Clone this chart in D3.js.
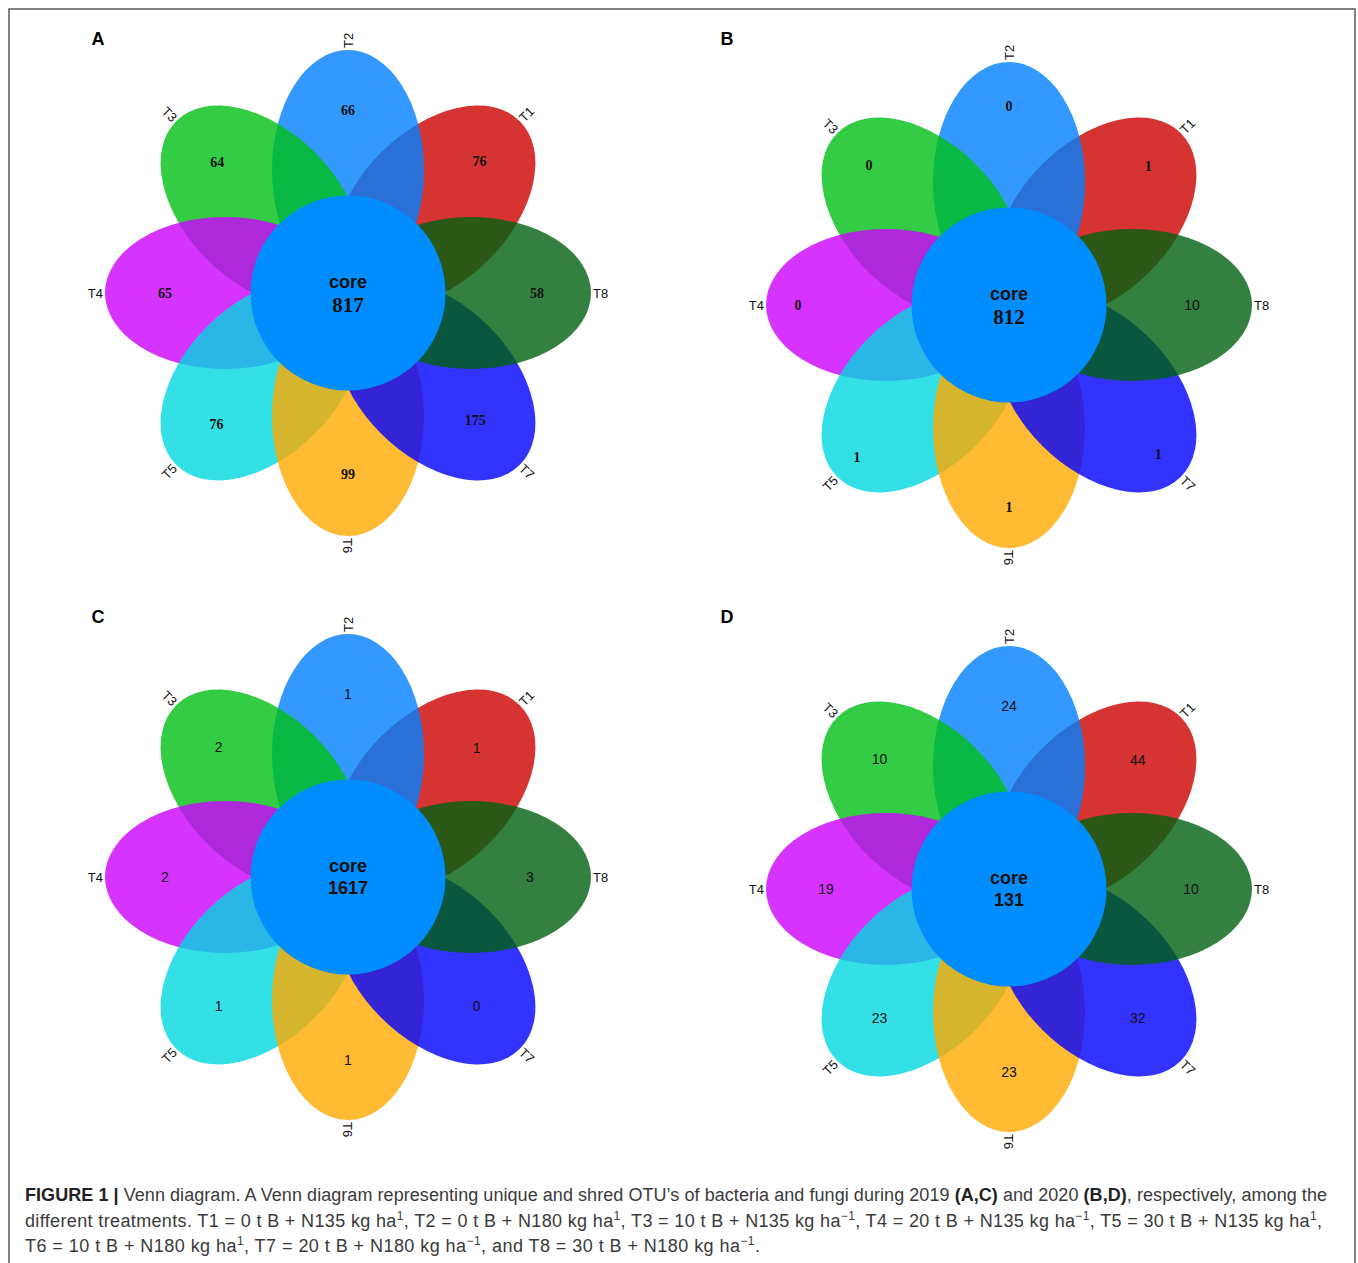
<!DOCTYPE html>
<html>
<head>
<meta charset="utf-8">
<script src="https://cdn.jsdelivr.net/npm/d3@7.9.0/dist/d3.min.js"></script>
<style>
  html, body { margin: 0; padding: 0; background: #fff; }
  svg { display: block; }
</style>
</head>
<body>
<div id="chart"></div>
<script>
// ---------- Data ----------
const setNames = ['T1', 'T2', 'T3', 'T4', 'T5', 'T6', 'T7', 'T8'];
const petalAngles = [45, 90, 135, 180, 225, 270, 315, 0]; // degrees, counter-clockwise from east
const panelIds = ['A', 'B', 'C', 'D'];
const uniqueA = [76, 66, 64, 65, 76, 99, 175, 58];
const uniqueB = [1, 0, 0, 0, 1, 1, 1, 10];
const uniqueC = [1, 1, 2, 2, 1, 1, 0, 3];
const uniqueD = [44, 24, 10, 19, 23, 23, 32, 10];
const coreCounts = [817, 812, 1617, 131];
const petalColors = ['#cc0000', '#0080ff', '#00bf15', '#cc00ff', '#00d8e0', '#ffaa00', '#0000ff', '#006010'];

// ---------- Layout ----------
const W = 1358, H = 1263;
const panels = [
  { id: 'A', cx: 348, cy: 293, lx: 98, ly: 45, values: uniqueA, labelR: [186, 183, 185, 183, 186, 181, 180, 189], serif: true },
  { id: 'B', cx: 1009, cy: 305, lx: 727, ly: 45, values: uniqueB, labelR: [197, 199, 198, 211, 215, 202, 211, 183], serif: true },
  { id: 'C', cx: 348, cy: 877, lx: 98, ly: 623, values: uniqueC, labelR: [182, 183, 183, 183, 183, 183, 182, 182], serif: false },
  { id: 'D', cx: 1009, cy: 889, lx: 727, ly: 623, values: uniqueD, labelR: [182, 183, 183, 183, 183, 183, 182, 182], serif: false },
];
const petal = { offset: 123, rx: 120, ry: 76 };
const coreR = 97.5;

const color = d3.scaleOrdinal().domain(setNames).range(petalColors);
const angle = d3.scaleOrdinal().domain(setNames).range(petalAngles);
const rad = d3.scaleLinear().domain([0, 360]).range([0, 2 * Math.PI]);

const polar = (p, a, r) => [p.cx + r * Math.cos(rad(a)), p.cy - r * Math.sin(rad(a))];

const svg = d3.select('#chart').append('svg')
  .attr('width', W).attr('height', H)
  .attr('viewBox', `0 0 ${W} ${H}`);

// frame
svg.append('path')
  .attr('d', `M9,${H} V9 H1355 V${H}`)
  .attr('fill', 'none')
  .attr('stroke', '#5a5a5a')
  .attr('stroke-width', 1.5);

const SANS = 'Helvetica, Arial, "Liberation Sans", sans-serif';
const SERIF = '"Times New Roman", "Liberation Serif", serif';

panels.forEach((p, pi) => {
  const g = svg.append('g').attr('class', 'panel');

  // panel letter
  g.append('text')
    .attr('x', p.lx).attr('y', p.ly)
    .attr('text-anchor', 'middle')
    .attr('font-family', SANS).attr('font-weight', 'bold').attr('font-size', 18)
    .text(p.id);

  // petals, drawn T1 -> T8
  g.selectAll('ellipse')
    .data(setNames)
    .join('ellipse')
    .attr('transform', (d) => {
      const [x, y] = polar(p, angle(d), petal.offset);
      return `translate(${x},${y}) rotate(${-angle(d)})`;
    })
    .attr('rx', petal.rx)
    .attr('ry', petal.ry)
    .attr('fill', (d) => color(d))
    .attr('fill-opacity', 0.8);

  // core
  g.append('circle')
    .attr('cx', p.cx).attr('cy', p.cy).attr('r', coreR)
    .attr('fill', '#018dfe');

  // set names round the tips
  g.selectAll('text.setname')
    .data(setNames)
    .join('text')
    .attr('class', 'setname')
    .attr('transform', (d) => {
      const a = angle(d);
      const [x, y] = polar(p, a, petal.offset + petal.rx + 2);
      let rot = -a;
      while (rot <= -180) rot += 360;
      while (rot > 180) rot -= 360;
      if (rot > 90 || rot < -90) rot += rot > 0 ? -180 : 180;
      return `translate(${x},${y}) rotate(${rot})`;
    })
    .attr('text-anchor', (d) => {
      const a = angle(d);
      return (a > 90 && a < 270) ? 'end' : 'start';
    })
    .attr('dy', '0.35em')
    .attr('font-family', SANS).attr('font-size', 13)
    .attr('fill', '#111')
    .text((d) => d);

  // unique counts
  const isSerif = (d) => p.serif && !(p.id === 'B' && d === 'T8');
  g.selectAll('text.count')
    .data(setNames)
    .join('text')
    .attr('class', 'count')
    .attr('x', (d, i) => polar(p, angle(d), p.labelR[i])[0])
    .attr('y', (d, i) => polar(p, angle(d), p.labelR[i])[1])
    .attr('text-anchor', 'middle')
    .attr('dy', '0.35em')
    .attr('font-family', (d) => isSerif(d) ? SERIF : SANS)
    .attr('font-weight', (d) => isSerif(d) ? 'bold' : 'normal')
    .attr('font-size', 14)
    .attr('fill', '#111')
    .text((d, i) => p.values[i]);

  // core label
  g.append('text')
    .attr('x', p.cx).attr('y', p.cy - 5)
    .attr('text-anchor', 'middle')
    .attr('font-family', SANS).attr('font-weight', 'bold').attr('font-size', 18)
    .attr('fill', '#111')
    .text('core');
  g.append('text')
    .attr('x', p.cx).attr('y', p.cy + (p.serif ? 19 : 17))
    .attr('text-anchor', 'middle')
    .attr('font-family', p.serif ? SERIF : SANS)
    .attr('font-weight', 'bold')
    .attr('font-size', p.serif ? 21 : 18)
    .attr('fill', '#111')
    .text(coreCounts[pi]);
});

// ---------- Caption ----------
const captionLines = [
  [['FIGURE 1 | ', 'b'], ['Venn diagram. A Venn diagram representing unique and shred OTU\u2019s of bacteria and fungi during 2019 '], ['(A,C)', 'b'], [' and 2020 '], ['(B,D)', 'b'], [', respectively, among the']],
  [['different treatments. T1 = 0 t B + N135 kg ha'], ['1', 'sup'], [', T2 = 0 t B + N180 kg ha'], ['1', 'sup'], [', T3 = 10 t B + N135 kg ha'], ['\u22121', 'sup'], [', T4 = 20 t B + N135 kg ha'], ['\u22121', 'sup'], [', T5 = 30 t B + N135 kg ha'], ['1', 'sup'], [',']],
  [['T6 = 10 t B + N180 kg ha'], ['1', 'sup'], [', T7 = 20 t B + N180 kg ha'], ['\u22121', 'sup'], [', and T8 = 30 t B + N180 kg ha'], ['\u22121', 'sup'], ['.']],
];
const captionWidths = [1302, 1297, 735];

const cap = svg.append('g')
  .attr('font-family', SANS)
  .attr('font-size', 18)
  .attr('fill', '#3a3a3a');

captionLines.forEach((line, li) => {
  const t = cap.append('text')
    .attr('x', 25)
    .attr('y', 1201 + li * 25.5)
    .attr('textLength', captionWidths[li])
    .attr('lengthAdjust', 'spacing');
  let prevSup = false;
  line.forEach(([s, kind]) => {
    const ts = t.append('tspan').text(s);
    if (kind === 'b') ts.attr('font-weight', 'bold').attr('fill', '#222');
    if (kind === 'sup') ts.attr('font-size', 12).attr('dy', -7);
    else if (prevSup) ts.attr('dy', 7);
    prevSup = kind === 'sup';
  });
});
</script>
</body>
</html>
